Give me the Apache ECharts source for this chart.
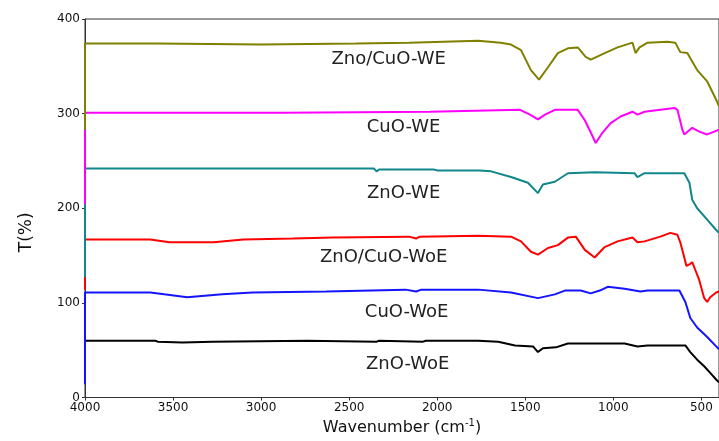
<!DOCTYPE html>
<html>
<head>
<meta charset="utf-8">
<script src="https://cdn.jsdelivr.net/npm/echarts@6/dist/echarts.min.js"></script>
<style>
  html, body { margin: 0; padding: 0; background: #fff; }
  #chart { width: 719px; height: 441px; }
</style>
</head>
<body>
<div id="chart"></div>
<script>
const xTicks = [4000, 3500, 3000, 2500, 2000, 1500, 1000, 500]
const yTicks = [0, 100, 200, 300, 400]

// [wavenumber, T%]
const znoCuoWE = [
  [4000, 283], [4000, 374], [3590, 374], [3580, 373], [3000, 373], [2990, 374], [2460, 374],
  [2450, 375], [2160, 375], [2150, 377], [1767, 377], [1640, 375], [1581, 373], [1524, 367],
  [1468, 346], [1422, 336], [1371, 349], [1315, 364], [1258, 369], [1202, 370], [1157, 360],
  [1128, 357], [1049, 364], [976, 370], [891, 375], [874, 364], [851, 370], [806, 375],
  [693, 376], [648, 375], [620, 365], [580, 364], [524, 346], [467, 334], [422, 317], [400, 308]
]
const cuoWE = [
  [4000, 204], [4000, 301], [2870, 301], [2860, 302], [2040, 302], [2030, 304], [1530, 304],
  [1473, 299], [1428, 294], [1388, 299], [1332, 304], [1202, 304], [1162, 293], [1128, 280],
  [1100, 269], [1061, 280], [1015, 290], [959, 297], [891, 302], [863, 299], [823, 302],
  [653, 306], [636, 304], [608, 283], [597, 278], [552, 285], [512, 281], [467, 278],
  [427, 281], [400, 283]
]
const znoWE = [
  [4000, 127], [4000, 242], [2360, 242], [2344, 239], [2330, 241], [2020, 241], [2010, 239],
  [2000, 240], [1760, 240], [1694, 239], [1581, 233], [1485, 227], [1428, 216], [1400, 225],
  [1332, 228], [1258, 237], [1106, 238], [880, 237], [863, 233], [823, 237], [597, 237],
  [568, 227], [552, 209], [524, 200], [467, 188], [416, 177], [400, 174]
]
const znoCuoWoE = [
  [4000, 114], [4000, 167], [3630, 167], [3520, 164], [3270, 164], [3100, 167], [2820, 168],
  [2590, 169], [2160, 170], [2120, 168], [2100, 170], [1767, 171], [1581, 170], [1524, 165],
  [1468, 154], [1428, 151], [1371, 158], [1315, 161], [1258, 169], [1213, 170], [1162, 156],
  [1106, 148], [1049, 159], [976, 165], [891, 169], [863, 164], [823, 165], [733, 170],
  [676, 174], [636, 172], [620, 164], [600, 150], [585, 139], [565, 141], [552, 143],
  [535, 135], [512, 124], [484, 105], [467, 101], [450, 106], [416, 111], [400, 112]
]
const cuoWoE = [
  [4000, 14], [4000, 111], [3630, 111], [3550, 109], [3420, 106], [3220, 109], [3050, 111],
  [2630, 112], [2180, 114], [2120, 112], [2090, 114], [1767, 114], [1581, 111], [1428, 105],
  [1332, 109], [1275, 113], [1185, 113], [1128, 110], [1077, 113], [1032, 117], [936, 115],
  [846, 112], [806, 113], [625, 113], [591, 101], [563, 84], [524, 74], [467, 64], [416, 54],
  [400, 51]
]
const znoWoE = [
  [4000, 60], [3600, 60], [3587, 59], [3446, 58], [3276, 59], [2739, 60], [2344, 59],
  [2330, 60], [2080, 59], [2065, 60], [1767, 60], [1654, 59], [1558, 55], [1456, 54],
  [1428, 48], [1400, 52], [1326, 53], [1258, 57], [936, 57], [863, 54], [806, 55], [591, 55],
  [563, 48], [524, 40], [484, 33], [450, 26], [416, 19], [400, 16]
]

const names = ['ZnO-WoE', 'CuO-WoE', 'ZnO/CuO-WoE', 'ZnO-WE', 'CuO-WE', 'Zno/CuO-WE']
const spectra = [znoWoE, cuoWoE, znoCuoWoE, znoWE, cuoWE, znoCuoWE]
const colors = ['#000000', '#1414ff', '#ff0000', '#10878a', '#ff00ff', '#808000']
const labelAt = [[2168, 35], [2174, 90], [2304, 148], [2191, 216], [2191, 285], [2276, 357]]

const font = 'DejaVu Sans'
const chart = echarts.init(document.getElementById('chart'))

function makeSeries(i) {
  return {
    name: names[i],
    type: 'line',
    data: spectra[i],
    showSymbol: false,
    symbol: 'none',
    lineStyle: { color: colors[i], width: 2 },
    silent: true,
    markPoint: {
      symbol: 'circle',
      symbolSize: 0,
      silent: true,
      label: {
        show: true,
        position: 'inside',
        formatter: names[i],
        color: '#222',
        fontFamily: font,
        fontSize: 18
      },
      data: [{ coord: labelAt[i] }]
    }
  }
}

chart.setOption({
  animation: false,
  grid: { left: 85, right: -3, top: 19, bottom: 43, show: true, borderColor: '#333', borderWidth: 1 },
  xAxis: {
    type: 'value',
    min: 400,
    max: 4000,
    inverse: true,
    name: 'Wavenumber (cm{sup|-1})',
    nameLocation: 'middle',
    nameGap: 21,
    nameTextStyle: {
      color: '#111', fontFamily: font, fontSize: 16,
      rich: { sup: { fontSize: 10, fontFamily: font, color: '#111', verticalAlign: 'top', padding: [0, 0, 9, 0] } }
    },
    splitLine: { show: false },
    axisLine: { lineStyle: { color: '#333', width: 1 } },
    axisTick: { customValues: xTicks, length: 3, lineStyle: { color: '#333' } },
    axisLabel: {
      customValues: xTicks,
      formatter: (v) => String(v),
      margin: 4, color: '#111', fontFamily: font, fontSize: 12
    }
  },
  yAxis: {
    type: 'value',
    min: yTicks[0],
    max: yTicks[yTicks.length - 1],
    interval: 100,
    name: 'T(%)',
    nameLocation: 'middle',
    nameGap: 50,
    nameTextStyle: { color: '#111', fontFamily: font, fontSize: 17, padding: [0, 48, 0, 0] },
    splitLine: { show: false },
    axisLine: { show: true, lineStyle: { color: '#333', width: 1 } },
    axisTick: { show: true, length: 3, lineStyle: { color: '#333' } },
    axisLabel: { margin: 5, color: '#111', fontFamily: font, fontSize: 12 }
  },
  series: spectra.map((d, i) => makeSeries(i))
})
</script>
</body>
</html>
